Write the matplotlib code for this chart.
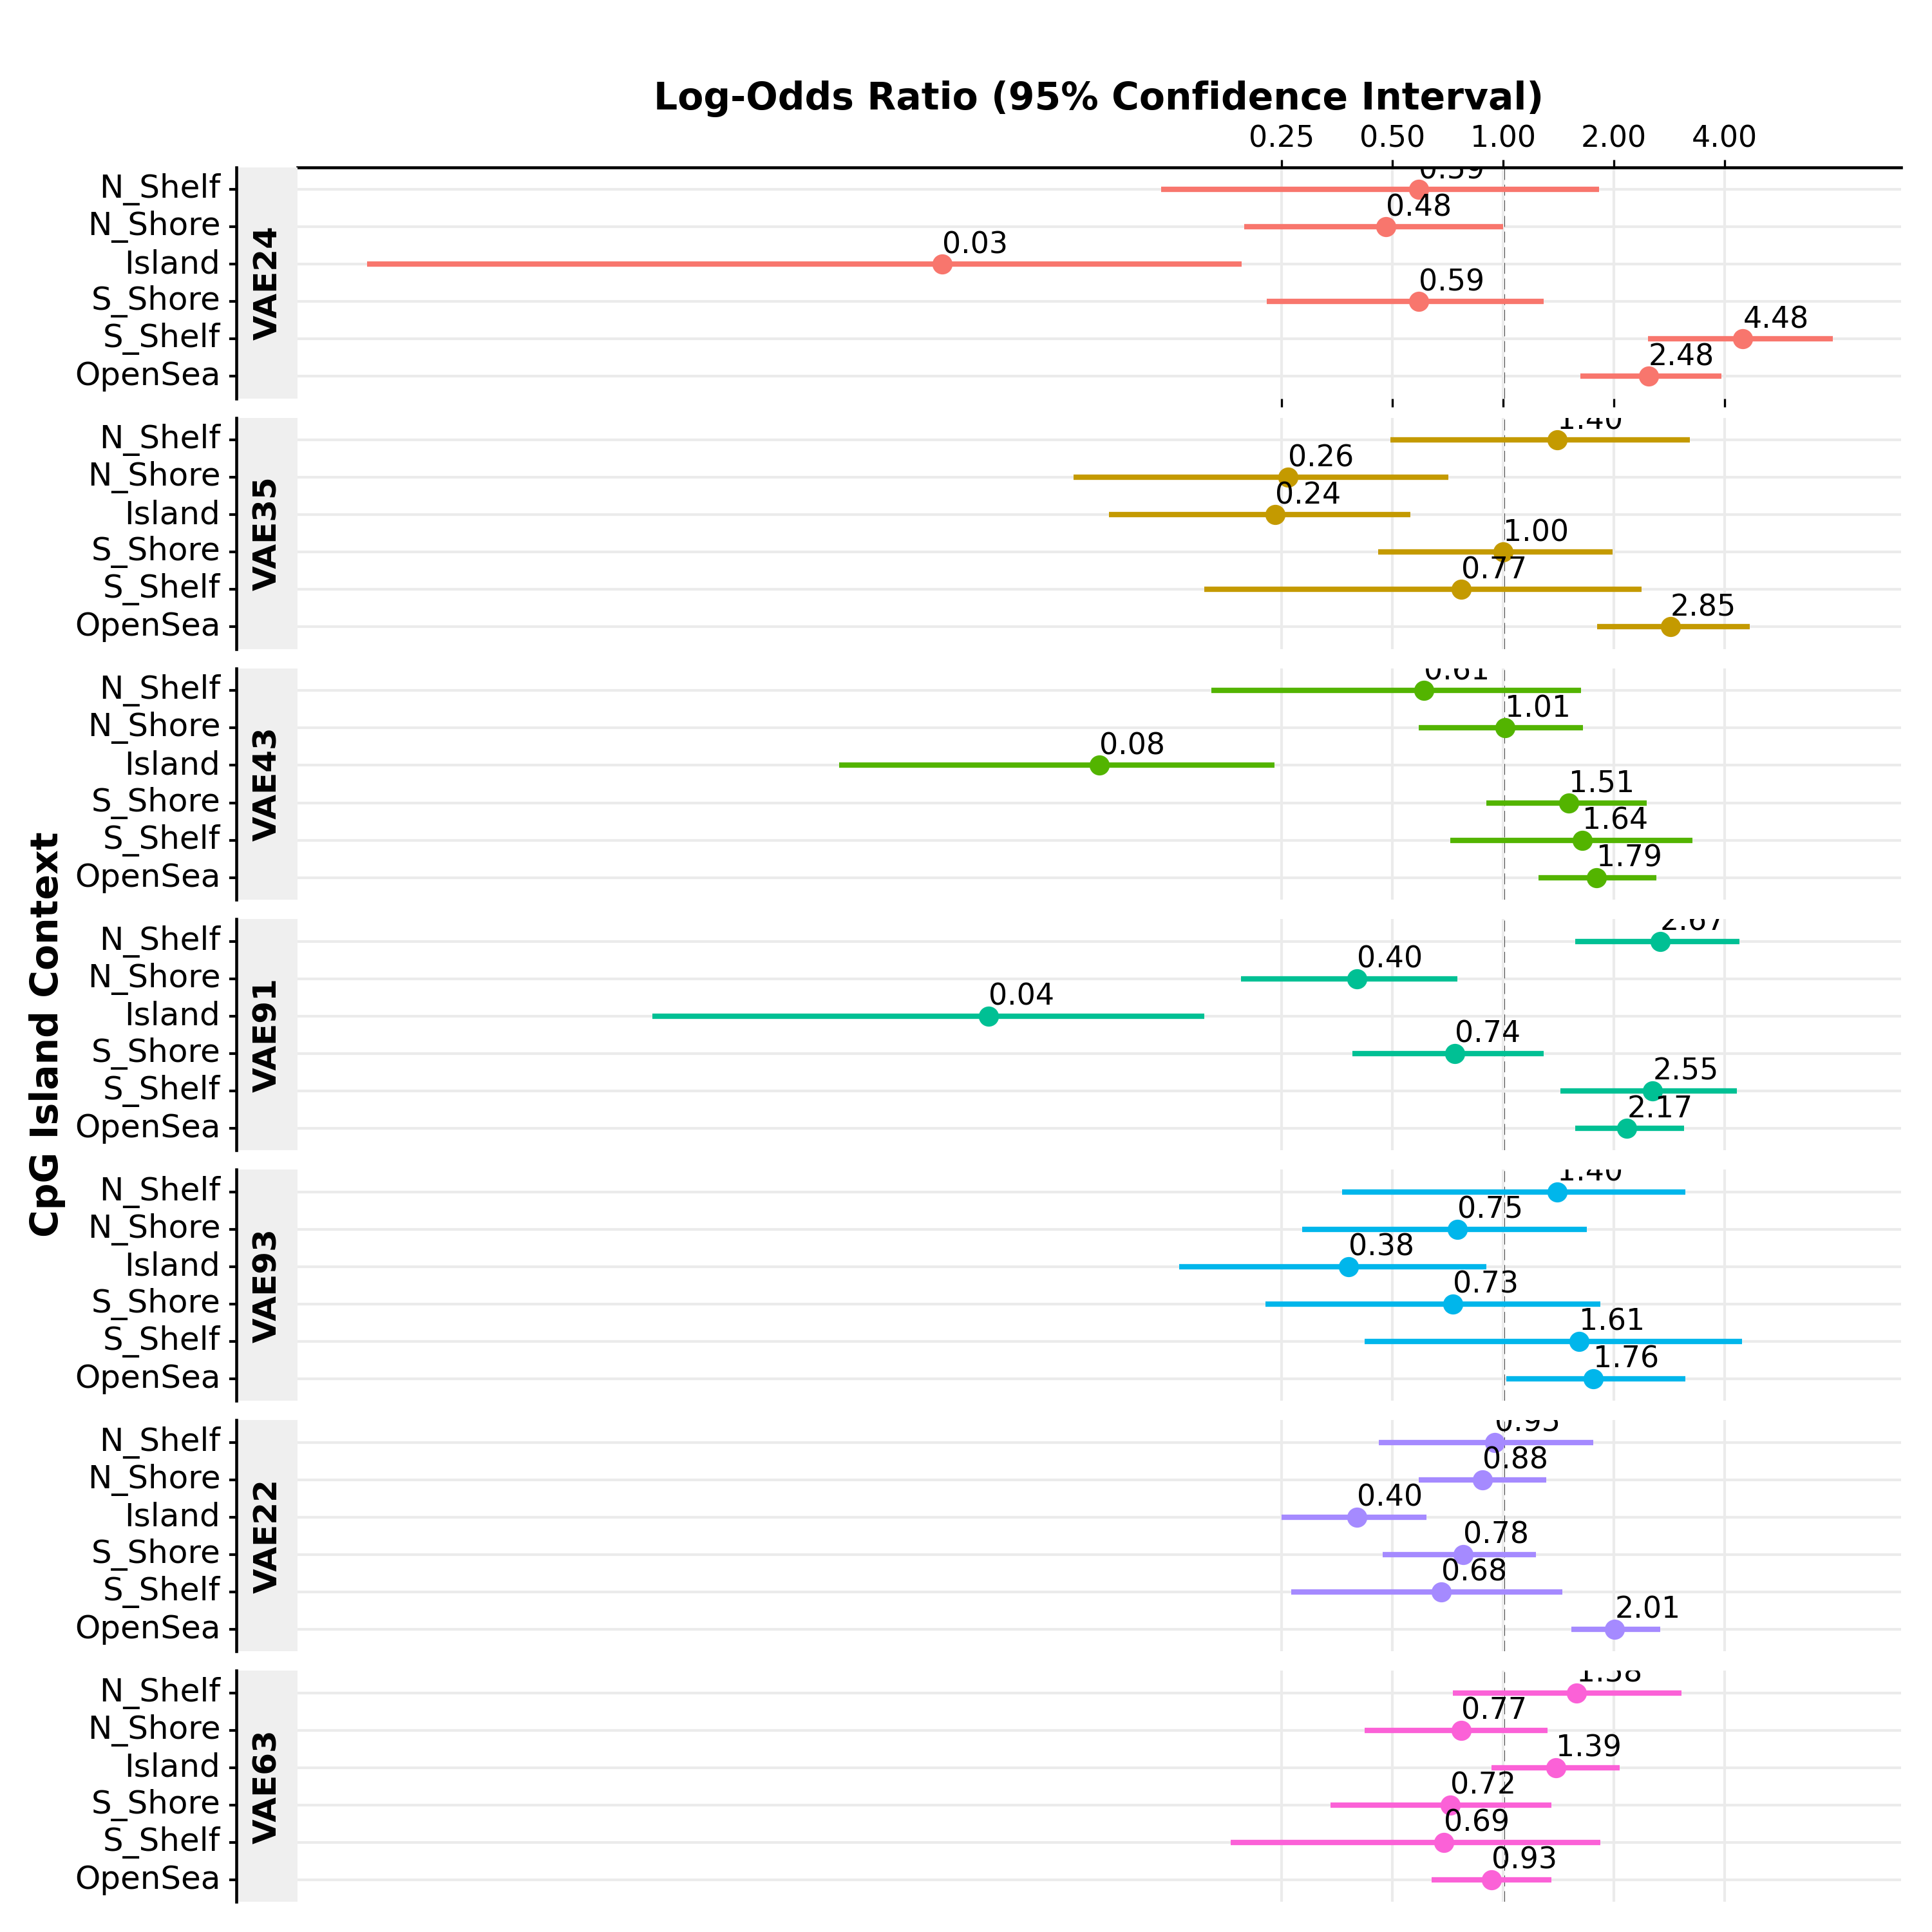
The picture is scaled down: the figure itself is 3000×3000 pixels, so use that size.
import numpy as np
import matplotlib
matplotlib.use("Agg")
import matplotlib.pyplot as plt
from matplotlib.lines import Line2D

models = ["VAE24", "VAE35", "VAE43", "VAE91", "VAE93", "VAE22", "VAE63"]
contexts = ["N_Shelf", "N_Shore", "Island", "S_Shore", "S_Shelf", "OpenSea"]
colors = ["#F8766D", "#C49A00", "#53B400", "#00C094", "#00B6EB", "#A58AFF", "#FB61D7"]

odds = [
    [0.59, 0.48, 0.03, 0.59, 4.48, 2.48],
    [1.40, 0.26, 0.24, 1.00, 0.77, 2.85],
    [0.61, 1.01, 0.08, 1.51, 1.64, 1.79],
    [2.67, 0.40, 0.04, 0.74, 2.55, 2.17],
    [1.40, 0.75, 0.38, 0.73, 1.61, 1.76],
    [0.95, 0.88, 0.40, 0.78, 0.68, 2.01],
    [1.58, 0.77, 1.39, 0.72, 0.69, 0.93],
]
ci_low = [
    [0.118, 0.198, 0.00082, 0.228, 2.47, 1.62],
    [0.495, 0.068, 0.085, 0.457, 0.154, 1.80],
    [0.161, 0.59, 0.0157, 0.90, 0.72, 1.25],
    [1.57, 0.194, 0.0049, 0.39, 1.43, 1.57],
    [0.366, 0.285, 0.132, 0.226, 0.42, 1.02],
    [0.46, 0.59, 0.25, 0.47, 0.266, 1.53],
    [0.73, 0.42, 0.93, 0.34, 0.182, 0.64],
]
ci_high = [
    [1.82, 1.00, 0.195, 1.29, 7.85, 3.91],
    [3.22, 0.71, 0.56, 1.98, 2.38, 4.67],
    [1.63, 1.65, 0.239, 2.45, 3.27, 2.61],
    [4.39, 0.75, 0.154, 1.29, 4.32, 3.10],
    [3.12, 1.69, 0.90, 1.84, 4.46, 3.12],
    [1.76, 1.31, 0.62, 1.23, 1.45, 2.67],
    [3.05, 1.32, 2.07, 1.35, 1.84, 1.35],
]
tick_vals = [0.25, 0.5, 1, 2, 4]
tick_labels = ["0.25", "0.50", "1.00", "2.00", "4.00"]

S = 1560.0
fig = plt.figure(figsize=(10, 10), dpi=300, facecolor="white")
left, right = 240 / S, 1535 / S
ph = 187 / S
step = 202.3 / S
xlim = (-10.88, 3.59)

for i, m in enumerate(models):
    top = 1 - (135 / S + i * step)
    ax = fig.add_axes([left, top - ph, right - left, ph])
    ax.set_xlim(*xlim)
    ax.set_ylim(5.6, -0.6)
    for s in ax.spines.values():
        s.set_visible(False)
    ax.set_yticks([])
    ax.set_xticks(np.log2(tick_vals))
    ax.tick_params(axis="x", length=0, labelbottom=False)
    ax.grid(axis="x", color="#EBEBEB", lw=1)
    for r in range(6):
        ax.axhline(r, color="#EBEBEB", lw=1, zorder=0)
    ax.axvline(0, color="black", ls="--", lw=1.1, zorder=1)
    c = colors[i]
    for r in range(6):
        lo, hi, v = np.log2(ci_low[i][r]), np.log2(ci_high[i][r]), np.log2(odds[i][r])
        ax.plot([lo, hi], [r, r], color=c, lw=2, solid_capstyle="butt", zorder=2)
        ax.plot(v, r, "o", color=c, ms=6.5, zorder=3)
        ax.text(v, r - 0.12, f"{odds[i][r]:.2f}", ha="left", va="bottom", fontsize=11, zorder=4, clip_on=True)
    if i == 0:
        ax.spines["top"].set_visible(True)
        ax.spines["top"].set_linewidth(1.1)
        ax.tick_params(axis="x", labeltop=True, top=True, length=3, labelsize=11, pad=2)
        ax.set_xticklabels(tick_labels)
    # strip
    sax = fig.add_axes([192 / S, top - ph, 48 / S, ph])
    sax.set_facecolor("#EFEFEF")
    sax.set_xticks([]); sax.set_yticks([])
    for s in sax.spines.values():
        s.set_visible(False)
    sax.text(0.5, 0.5, m, rotation=90, ha="center", va="center", fontsize=12, fontweight="bold", transform=sax.transAxes)
    fig.add_artist(Line2D([191 / S, 191 / S], [top - ph, top], color="black", lw=1.1, transform=fig.transFigure))
    for r, name in enumerate(contexts):
        yy = top - ph * (r + 0.6) / 6.2
        fig.text(178 / S, yy, name, ha="right", va="center", fontsize=12)
        fig.add_artist(Line2D([186 / S, 191 / S], [yy, yy], color="black", lw=1, transform=fig.transFigure))

fig.text(887 / S, 1 - 80 / S, "Log-Odds Ratio (95% Confidence Interval)", ha="center", va="center", fontsize=14, fontweight="bold")
fig.text(38 / S, 1 - 835 / S, "CpG Island Context", rotation=90, ha="center", va="center", fontsize=14, fontweight="bold")

fig.savefig("out.png", dpi=300, facecolor="white")
